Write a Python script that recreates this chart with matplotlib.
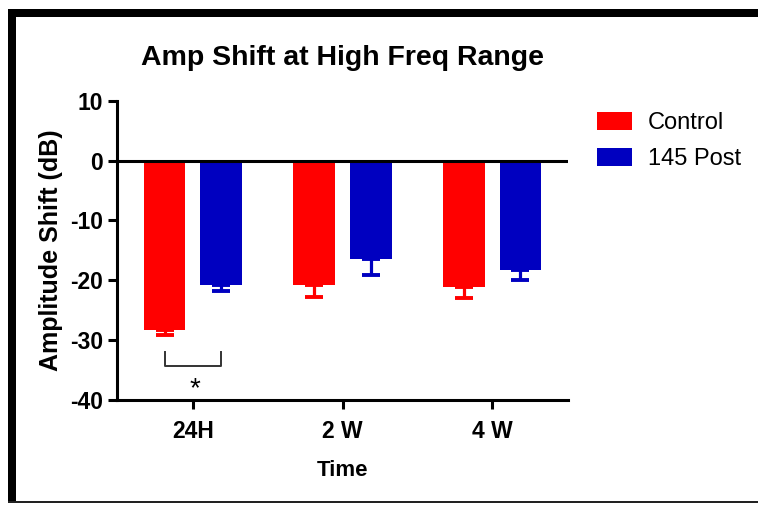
import numpy as np
import matplotlib
matplotlib.use('Agg')
import matplotlib.pyplot as plt
from matplotlib.patches import Rectangle

plt.rcParams['font.family'] = ['Liberation Sans', 'DejaVu Sans']
plt.rcParams['axes.unicode_minus'] = False

# data
timepoints = ['24H', '2 W', '4 W']
groups = ['Control', '145 Post']
control_mean = np.array([-28.3, -20.8, -21.1])
control_err = np.array([0.8, 2.0, 1.8])
post_mean = np.array([-20.8, -16.5, -18.3])
post_err = np.array([1.0, 2.7, 1.7])
colors = ['#FF0000', '#0000C0']

fig = plt.figure()
fig.set_size_inches(7.58, 5.05)
ax = fig.add_axes([117/758, 1-400/505, (568-117)/758, (400-100.7)/505])

x = np.arange(len(timepoints))
off = 0.19
w = 0.28
for means, errs, sign, c, lab in [(control_mean, control_err, -1, colors[0], groups[0]),
                                  (post_mean, post_err, 1, colors[1], groups[1])]:
    ax.bar(x + sign*off, means, width=w, color=c, label=lab, zorder=2)
    ax.errorbar(x + sign*off, means, yerr=[errs, np.zeros_like(errs)], fmt='none',
                ecolor=c, elinewidth=2.3, capsize=6.5, capthick=2.8, zorder=2)

ax.axhline(0, color='black', lw=2.2, xmax=(567-117)/(568-117), zorder=3)

# significance bracket
ax.plot([-off, -off, off, off], [-32, -34.4, -34.4, -32], color='#333333', lw=1.4, clip_on=False)
ax.text(0.01, -38.2, '*', ha='center', va='center', fontsize=20)

ax.set_xlim(-0.508, 2.508)
ax.set_ylim(-40, 10)
ax.set_yticks([10, 0, -10, -20, -30, -40])
ax.set_xticks(x)
ax.set_xticklabels(timepoints)
for s in ['top', 'right']:
    ax.spines[s].set_visible(False)
for s in ['left', 'bottom']:
    ax.spines[s].set_linewidth(2.2)
ax.tick_params(width=2.2, length=6.5, labelsize=16.5)
ax.tick_params(axis='x', pad=8)
for t in ax.get_xticklabels() + ax.get_yticklabels():
    t.set_fontweight('bold')

ax.set_title('Amp Shift at High Freq Range', fontsize=20.5, fontweight='bold', pad=26)
ax.set_ylabel('Amplitude Shift (dB)', fontsize=18, fontweight='bold', labelpad=5)
ax.set_xlabel('Time', fontsize=16, fontweight='bold', labelpad=12)

ax.legend(loc='upper left', bbox_to_anchor=(597/758, 1-112/505), bbox_transform=fig.transFigure,
          frameon=False, fontsize=17, handlelength=1.48, handleheight=0.8,
          handletextpad=0.68, labelspacing=0.58, borderpad=0, borderaxespad=0)

# black frame around the figure
fig.add_artist(Rectangle((8/758, 2/505), 7.7/758, (503-9.3)/505, transform=fig.transFigure,
                         color='black', lw=0))
fig.add_artist(Rectangle((8/758, 1-17.3/505), 750/758, 8/505, transform=fig.transFigure,
                         color='black', lw=0))
fig.add_artist(Rectangle((8/758, 2/505), 750/758, 2/505, transform=fig.transFigure,
                         color='#222222', lw=0))

fig.savefig('out.png', dpi=100)
